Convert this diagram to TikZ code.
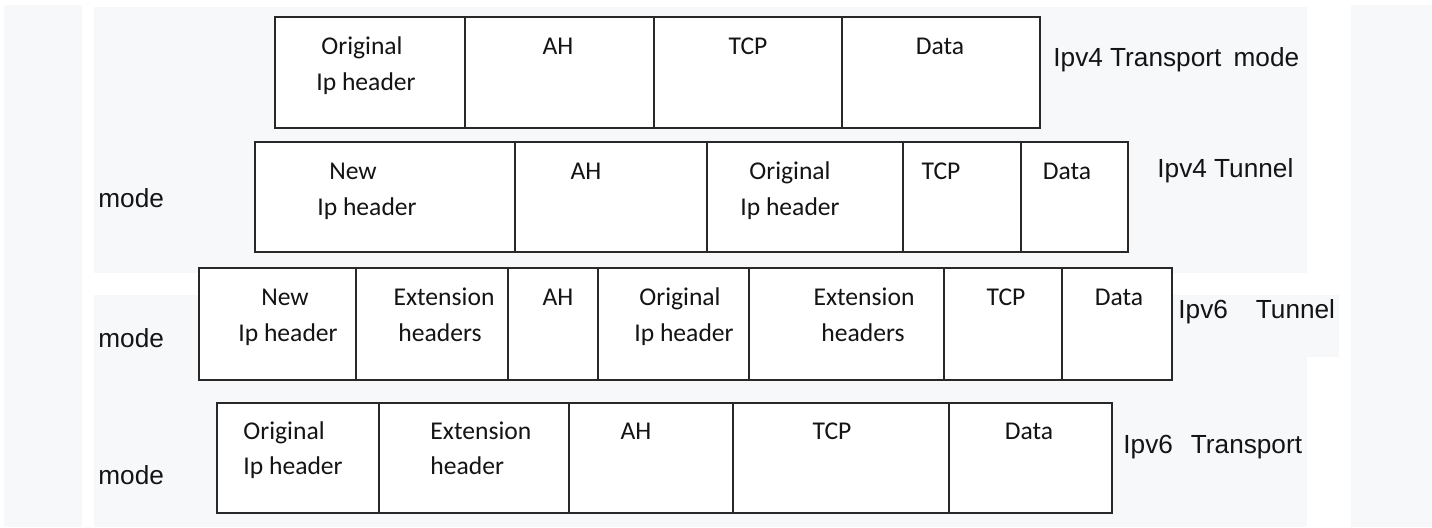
\documentclass[tikz,border=0pt]{standalone}
\usepackage{fontspec}
\setmainfont{Carlito}
\newfontfamily\labelfont{Liberation Sans}
\definecolor{panel}{RGB}{247,248,250}
\definecolor{ink}{RGB}{20,20,20}
\definecolor{rule}{RGB}{40,40,40}

\begin{document}
\begin{tikzpicture}[x=0.5pt,y=-0.5pt,
  cell/.style={anchor=base, inner sep=0pt, font=\fontsize{12.8pt}{14pt}\selectfont, text=ink},
  cellL/.style={cell, anchor=base west},
  mlabel/.style={anchor=base west, inner sep=0pt, font=\labelfont\fontsize{13.1pt}{15pt}\selectfont, text=ink},
  frame/.style={draw=rule, line width=1pt, fill=white},
  divider/.style={draw=rule, line width=1pt}]
\useasboundingbox (0,0) rectangle (1432,528);
\fill[white] (0,0) rectangle (1432,528);

% light background panels
\fill[panel] (4,5) rectangle (82,527);
\fill[panel] (94,7) rectangle (1307,273);
\fill[panel] (94,295) rectangle (1307,527);
\fill[panel] (1172,295) rectangle (1339,357);
\fill[panel] (1351,5) rectangle (1432,527);

% ---- IPv4 transport mode
\draw[frame] (275,17) rectangle (1040,128);
\foreach \x in {465,654,842} \draw[divider] (\x,17) -- (\x,128);
\node[cell] (a1) at (362,55) {Original};
\node[cell] (a2) at (366,91) {Ip header};
\node[cell] (a3) at (558,55) {AH};
\node[cell] (a4) at (748,55) {TCP};
\node[cell] (a5) at (940,55) {Data};
\node[mlabel] (la) at (1053,67) {Ipv4 Transport\hspace{2.5pt} mode};

% ---- IPv4 tunnel mode
\draw[frame] (255,142) rectangle (1128,252);
\foreach \x in {515,707,903,1021} \draw[divider] (\x,142) -- (\x,252);
\node[cell] (b1) at (353,180) {New};
\node[cell] (b2) at (367,216) {Ip header};
\node[cell] (b3) at (586,180) {AH};
\node[cell] (b4) at (790,180) {Original};
\node[cell] (b5) at (790,216) {Ip header};
\node[cell] (b6) at (941,180) {TCP};
\node[cell] (b7) at (1067,180) {Data};
\node[mlabel] (lb) at (1157,178) {Ipv4 Tunnel};
\node[mlabel] (mb) at (98,208) {mode};

% ---- IPv6 tunnel mode
\draw[frame] (199,268) rectangle (1172,380);
\foreach \x in {356,508,598,749,944,1062} \draw[divider] (\x,268) -- (\x,380);
\node[cell] (c1) at (285,306) {New};
\node[cell] (c2) at (288,342) {Ip header};
\node[cell] (c3) at (444,306) {Extension};
\node[cell] (c4) at (440,342) {headers};
\node[cell] (c5) at (558,306) {AH};
\node[cell] (c6) at (680,306) {Original};
\node[cell] (c7) at (684,342) {Ip header};
\node[cell] (c8) at (864,306) {Extension};
\node[cell] (c9) at (863,342) {headers};
\node[cell] (c10) at (1006,306) {TCP};
\node[cell] (c11) at (1119,306) {Data};
\node[mlabel] (lc) at (1178,319) {Ipv6\hspace{14pt}Tunnel};
\node[mlabel] (mc) at (98,348) {mode};

% ---- IPv6 transport mode
\draw[frame] (217,403) rectangle (1112,513);
\foreach \x in {379,569,733,949} \draw[divider] (\x,403) -- (\x,513);
\node[cellL] (d1) at (243,440) {Original};
\node[cellL] (d2) at (243,475) {Ip header};
\node[cellL] (d3) at (430,440) {Extension};
\node[cellL] (d4) at (430,475) {header};
\node[cell] (d5) at (636,440) {AH};
\node[cell] (d6) at (832,440) {TCP};
\node[cell] (d7) at (1029,440) {Data};
\node[mlabel] (ld) at (1123,454) {Ipv6\hspace{9pt}Transport};
\node[mlabel] (md) at (98,485) {mode};
\end{tikzpicture}
\end{document}
